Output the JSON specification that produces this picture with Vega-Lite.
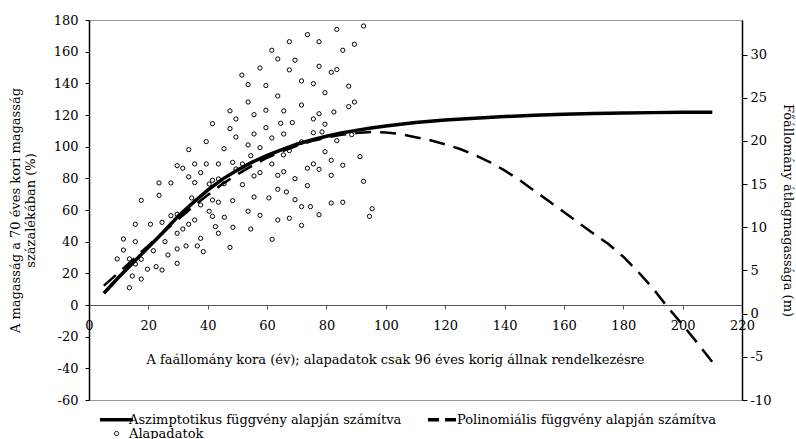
{
  "$schema": "https://vega.github.io/schema/vega-lite/v6.json",
  "width": 653,
  "height": 380,
  "autosize": {"type": "none"},
  "padding": {"left": 89, "top": 20, "right": 54, "bottom": 39},
  "background": "white",
  "config": {
    "font": "DejaVu Serif",
    "view": {"stroke": "#9a9a9a", "strokeWidth": 1},
    "axis": {
      "labelFont": "DejaVu Serif",
      "titleFont": "DejaVu Serif",
      "labelFontSize": 13,
      "titleFontSize": 13,
      "labelColor": "black",
      "titleColor": "black",
      "titleFontWeight": "normal",
      "labelOverlap": false,
      "labelSeparation": 0,
      "grid": false,
      "domainColor": "black",
      "tickColor": "black"
    },
    "legend": {
      "labelFont": "DejaVu Serif"
    }
  },
  "datasets": {
    "alapadatok": [
      {"x": 92.5, "y": 176.2}, {"x": 83.5, "y": 174.1}, {"x": 73.6, "y": 170.8}, {"x": 67.5, "y": 166.3},
      {"x": 77.5, "y": 166.3}, {"x": 89.4, "y": 164.7}, {"x": 61.6, "y": 160.9}, {"x": 85.5, "y": 160.9},
      {"x": 63.6, "y": 155.4}, {"x": 69.4, "y": 154.6}, {"x": 77.5, "y": 150.8}, {"x": 57.6, "y": 149.7},
      {"x": 67.5, "y": 148.5}, {"x": 81.6, "y": 147.0}, {"x": 83.5, "y": 148.7}, {"x": 51.5, "y": 145.2},
      {"x": 71.6, "y": 141.5}, {"x": 53.6, "y": 139.2}, {"x": 59.6, "y": 138.6}, {"x": 75.6, "y": 139.8},
      {"x": 87.5, "y": 138.2}, {"x": 79.5, "y": 134.1}, {"x": 63.6, "y": 132.0}, {"x": 53.6, "y": 128.2},
      {"x": 89.4, "y": 128.2}, {"x": 87.5, "y": 125.3}, {"x": 71.6, "y": 126.3}, {"x": 47.5, "y": 122.6},
      {"x": 59.6, "y": 123.0}, {"x": 65.6, "y": 122.6}, {"x": 82.5, "y": 121.9}, {"x": 77.5, "y": 120.8},
      {"x": 55.6, "y": 120.2}, {"x": 49.5, "y": 117.5}, {"x": 41.6, "y": 114.5}, {"x": 64.6, "y": 114.8},
      {"x": 68.5, "y": 115.2}, {"x": 75.6, "y": 117.5}, {"x": 79.5, "y": 114.2}, {"x": 47.5, "y": 111.4},
      {"x": 59.6, "y": 112.0}, {"x": 55.6, "y": 108.0}, {"x": 65.6, "y": 108.0}, {"x": 75.6, "y": 108.8},
      {"x": 78.5, "y": 109.3}, {"x": 49.5, "y": 106.1}, {"x": 61.6, "y": 105.5}, {"x": 39.5, "y": 103.2},
      {"x": 71.6, "y": 103.0}, {"x": 83.5, "y": 103.8}, {"x": 88.5, "y": 107.6}, {"x": 91.3, "y": 93.7},
      {"x": 53.6, "y": 101.1}, {"x": 57.6, "y": 99.4}, {"x": 33.6, "y": 98.1}, {"x": 45.5, "y": 98.7},
      {"x": 67.5, "y": 97.5}, {"x": 79.5, "y": 96.8}, {"x": 65.5, "y": 94.8}, {"x": 54.5, "y": 94.3},
      {"x": 48.4, "y": 90.1}, {"x": 29.7, "y": 88.0}, {"x": 31.6, "y": 86.4}, {"x": 35.6, "y": 89.1},
      {"x": 39.5, "y": 89.1}, {"x": 43.6, "y": 89.1}, {"x": 51.7, "y": 89.1}, {"x": 61.6, "y": 89.1},
      {"x": 75.6, "y": 89.1}, {"x": 85.5, "y": 88.3}, {"x": 81.6, "y": 91.4}, {"x": 73.6, "y": 86.4},
      {"x": 77.5, "y": 85.7}, {"x": 49.5, "y": 85.9}, {"x": 37.6, "y": 83.6}, {"x": 57.6, "y": 83.6},
      {"x": 65.6, "y": 84.2}, {"x": 33.6, "y": 80.9}, {"x": 43.6, "y": 79.6}, {"x": 41.6, "y": 78.8},
      {"x": 55.6, "y": 81.5}, {"x": 63.6, "y": 81.9}, {"x": 69.4, "y": 79.8}, {"x": 81.6, "y": 81.9},
      {"x": 92.5, "y": 78.1}, {"x": 35.6, "y": 77.3}, {"x": 40.5, "y": 76.4}, {"x": 23.6, "y": 77.1},
      {"x": 27.6, "y": 77.1}, {"x": 45.5, "y": 76.6}, {"x": 51.7, "y": 76.0}, {"x": 73.6, "y": 75.4},
      {"x": 63.6, "y": 73.1}, {"x": 66.5, "y": 71.4}, {"x": 23.6, "y": 69.3}, {"x": 34.6, "y": 67.6},
      {"x": 55.6, "y": 68.2}, {"x": 60.6, "y": 67.6}, {"x": 17.6, "y": 66.1}, {"x": 69.4, "y": 66.5},
      {"x": 41.6, "y": 66.3}, {"x": 43.6, "y": 64.9}, {"x": 48.4, "y": 65.9}, {"x": 81.6, "y": 64.4},
      {"x": 85.5, "y": 64.9}, {"x": 37.6, "y": 63.2}, {"x": 71.6, "y": 62.1}, {"x": 74.6, "y": 62.1},
      {"x": 40.5, "y": 59.2}, {"x": 53.6, "y": 59.2}, {"x": 95.4, "y": 60.8}, {"x": 77.5, "y": 57.0},
      {"x": 94.5, "y": 56.0}, {"x": 41.6, "y": 56.0}, {"x": 57.6, "y": 56.6}, {"x": 27.6, "y": 56.4},
      {"x": 29.7, "y": 57.3}, {"x": 45.6, "y": 55.4}, {"x": 54.5, "y": 48.0}, {"x": 63.6, "y": 53.7},
      {"x": 67.5, "y": 54.8}, {"x": 71.6, "y": 50.3}, {"x": 61.7, "y": 41.5}, {"x": 47.5, "y": 36.4},
      {"x": 48.5, "y": 49.1}, {"x": 42.6, "y": 49.5}, {"x": 43.6, "y": 45.3}, {"x": 37.6, "y": 42.1},
      {"x": 38.5, "y": 33.7}, {"x": 36.5, "y": 37.3}, {"x": 32.7, "y": 37.3}, {"x": 29.7, "y": 35.4},
      {"x": 29.7, "y": 26.3}, {"x": 29.7, "y": 45.3}, {"x": 31.6, "y": 48.0}, {"x": 33.6, "y": 51.0},
      {"x": 35.6, "y": 53.7}, {"x": 26.6, "y": 31.6}, {"x": 25.6, "y": 40.0}, {"x": 24.6, "y": 52.2},
      {"x": 24.6, "y": 22.1}, {"x": 22.6, "y": 24.2}, {"x": 21.7, "y": 34.3}, {"x": 20.7, "y": 51.0},
      {"x": 19.7, "y": 22.6}, {"x": 17.6, "y": 16.4}, {"x": 17.6, "y": 28.9}, {"x": 15.6, "y": 51.0},
      {"x": 15.6, "y": 40.0}, {"x": 15.6, "y": 25.9}, {"x": 14.6, "y": 18.3}, {"x": 13.6, "y": 10.9},
      {"x": 11.6, "y": 41.7}, {"x": 11.6, "y": 34.7}, {"x": 9.5, "y": 29.1}, {"x": 13.6, "y": 29.1}
    ],
    "aszimptotikus": [
      {"x": 5, "y": 7.4}, {"x": 10, "y": 17.5}, {"x": 15, "y": 27}, {"x": 20, "y": 36.5},
      {"x": 25, "y": 46}, {"x": 30, "y": 56}, {"x": 35, "y": 64.5}, {"x": 40, "y": 72.5},
      {"x": 45, "y": 79.5}, {"x": 50, "y": 85.2}, {"x": 55, "y": 90.2}, {"x": 60, "y": 94.5},
      {"x": 65, "y": 98.2}, {"x": 70, "y": 101.5}, {"x": 75, "y": 104.2}, {"x": 80, "y": 106.6},
      {"x": 85, "y": 108.6}, {"x": 90, "y": 110.3}, {"x": 95, "y": 111.8}, {"x": 100, "y": 113},
      {"x": 110, "y": 115.2}, {"x": 120, "y": 116.8}, {"x": 130, "y": 118}, {"x": 140, "y": 119},
      {"x": 150, "y": 119.8}, {"x": 160, "y": 120.4}, {"x": 170, "y": 120.9}, {"x": 180, "y": 121.2},
      {"x": 190, "y": 121.5}, {"x": 200, "y": 121.7}, {"x": 210, "y": 121.8}
    ],
    "polinomialis": [
      {"x": 5, "y": 12.2}, {"x": 10, "y": 20.5}, {"x": 15, "y": 29}, {"x": 20, "y": 37.5},
      {"x": 25, "y": 46}, {"x": 30, "y": 54}, {"x": 35, "y": 62}, {"x": 40, "y": 69.5},
      {"x": 45, "y": 76.5}, {"x": 50, "y": 82.5}, {"x": 55, "y": 88}, {"x": 60, "y": 93},
      {"x": 65, "y": 97}, {"x": 70, "y": 100.5}, {"x": 75, "y": 103.5}, {"x": 80, "y": 105.8},
      {"x": 85, "y": 107.5}, {"x": 90, "y": 108.6}, {"x": 95, "y": 109.2}, {"x": 100, "y": 109},
      {"x": 105, "y": 108}, {"x": 110, "y": 106}, {"x": 115, "y": 104}, {"x": 120, "y": 101.5},
      {"x": 125, "y": 98.5}, {"x": 130, "y": 94.7}, {"x": 135, "y": 90.3}, {"x": 140, "y": 85},
      {"x": 145, "y": 79}, {"x": 150, "y": 72.2}, {"x": 155, "y": 65.5}, {"x": 160, "y": 58.7},
      {"x": 165, "y": 51.8}, {"x": 170, "y": 45}, {"x": 175, "y": 38.5}, {"x": 180, "y": 30.5},
      {"x": 185, "y": 21}, {"x": 190, "y": 10.5}, {"x": 195, "y": -1.5}, {"x": 200, "y": -12.5},
      {"x": 205, "y": -24}, {"x": 210, "y": -36}
    ]
  },
  "layer": [
    {
      "layer": [
        {
          "data": {"name": "alapadatok"},
          "mark": {"type": "point", "shape": "circle", "filled": false, "size": 18, "strokeWidth": 1, "opacity": 1},
          "encoding": {
            "x": {
              "field": "x", "type": "quantitative",
              "scale": {"domain": [0, 220], "nice": false},
              "axis": {
                "orient": "bottom", "offset": -95,
                "values": [0, 20, 40, 60, 80, 100, 120, 140, 160, 180, 200, 220],
                "labelOverlap": false,
                "domainColor": "#555555", "tickColor": "#555555", "tickSize": 4,
                "labelPadding": 10, "labelFlush": false,
                "title": "A faállomány kora (év); alapadatok csak 96 éves korig állnak rendelkezésre",
                "titleX": 306, "titlePadding": 21
              }
            },
            "y": {
              "field": "y", "type": "quantitative",
              "scale": {"domain": [-60, 180], "nice": false, "zero": false},
              "axis": {
                "orient": "left",
                "values": [-60, -40, -20, 0, 20, 40, 60, 80, 100, 120, 140, 160, 180],
                "labelOverlap": false, "labelSeparation": 0,
                "labelExpr": "'' + datum.value",
                "domainWidth": 1.5, "tickSize": 4, "labelPadding": 7,
                "title": ["A magasság a 70 éves kori magasság", "százalékában (%)"],
                "titlePadding": 16
              }
            },
            "color": {
              "datum": "Alapadatok", "type": "nominal",
              "scale": {
                "domain": ["Aszimptotikus függvény alapján számítva", "Polinomiális függvény alapján számítva", "Alapadatok"],
                "range": ["black", "black", "black"]
              },
              "legend": {
                "title": null,
                "values": ["Aszimptotikus függvény alapján számítva", "Alapadatok", "Polinomiális függvény alapján számítva"],
                "orient": "none", "legendX": 21, "legendY": 393,
                "columns": 2, "columnPadding": 19, "rowPadding": -3,
                "symbolSize": 1089, "symbolStrokeWidth": 3.5, "symbolType": "stroke",
                "labelFontSize": 13, "labelColor": "black",
                "labelOffset": 6, "labelLimit": 400,
                "encoding": {
                  "symbols": {
                    "shape": {"value": {"expr": "datum.value === 'Alapadatok' ? 'circle' : 'stroke'"}},
                    "size": {"value": {"expr": "datum.value === 'Alapadatok' ? 18 : 1089"}},
                    "strokeWidth": {"value": {"expr": "datum.value === 'Alapadatok' ? 1 : 3.5"}},
                    "strokeDash": {"value": {"expr": "datum.value === 'Polinomiális függvény alapján számítva' ? [11, 6] : [1, 0]"}},
                    "stroke": {"value": "black"},
                    "fill": {"value": "transparent"},
                    "opacity": {"value": 1}
                  }
                }
              }
            }
          }
        },
        {
          "data": {"name": "polinomialis"},
          "mark": {"type": "line", "strokeWidth": 2.5, "strokeDash": [16, 9]},
          "encoding": {
            "x": {"field": "x", "type": "quantitative"},
            "y": {
              "field": "y", "type": "quantitative",
              "axis": {
                "orient": "left",
                "values": [-60, -40, -20, 0, 20, 40, 60, 80, 100, 120, 140, 160, 180],
                "labelOverlap": false, "labelSeparation": 0,
                "labelExpr": "'' + datum.value",
                "domainWidth": 1.5, "tickSize": 4, "labelPadding": 7,
                "title": ["A magasság a 70 éves kori magasság", "százalékában (%)"],
                "titlePadding": 16
              }
            },
            "color": {
              "datum": "Polinomiális függvény alapján számítva", "type": "nominal",
              "scale": {
                "domain": ["Aszimptotikus függvény alapján számítva", "Polinomiális függvény alapján számítva", "Alapadatok"],
                "range": ["black", "black", "black"]
              }
            }
          }
        },
        {
          "data": {"name": "aszimptotikus"},
          "mark": {"type": "line", "strokeWidth": 3.5},
          "encoding": {
            "x": {"field": "x", "type": "quantitative"},
            "y": {
              "field": "y", "type": "quantitative",
              "axis": {
                "orient": "left",
                "values": [-60, -40, -20, 0, 20, 40, 60, 80, 100, 120, 140, 160, 180],
                "labelOverlap": false, "labelSeparation": 0,
                "labelExpr": "'' + datum.value",
                "domainWidth": 1.5, "tickSize": 4, "labelPadding": 7,
                "title": ["A magasság a 70 éves kori magasság", "százalékában (%)"],
                "titlePadding": 16
              }
            },
            "color": {
              "datum": "Aszimptotikus függvény alapján számítva", "type": "nominal",
              "scale": {
                "domain": ["Aszimptotikus függvény alapján számítva", "Polinomiális függvény alapján számítva", "Alapadatok"],
                "range": ["black", "black", "black"]
              }
            }
          }
        }
      ]
    },
    {
      "data": {"values": [{"m": -10}, {"m": 34}]},
      "mark": {"type": "point", "opacity": 0},
      "encoding": {
        "y": {
          "field": "m", "type": "quantitative",
          "scale": {"domain": [-10, 34], "nice": false, "zero": false},
          "axis": {
            "orient": "right",
            "values": [-10, -5, 0, 5, 10, 15, 20, 25, 30],
            "labelOverlap": false,
            "labelExpr": "'' + datum.value",
            "domainWidth": 1.5, "tickSize": 5, "labelPadding": 3,
            "title": "Főállomány átlagmagassága (m)",
            "titlePadding": 10
          }
        }
      }
    }
  ],
  "resolve": {"scale": {"y": "independent"}}
}
